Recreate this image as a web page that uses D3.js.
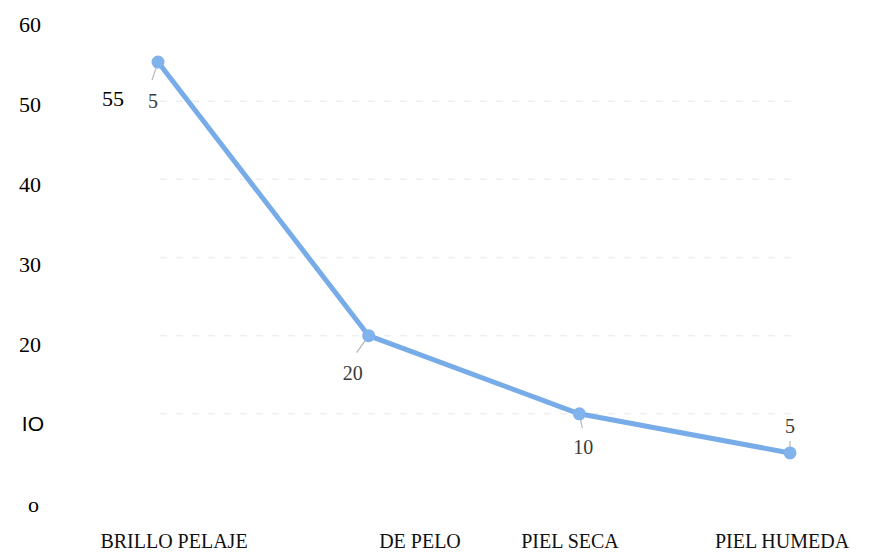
<!doctype html>
<html lang='es'>
  <head>
    <meta charset="utf-8">
    <script src="https://d3js.org/d3.v7.min.js"></script>
    <title>Brillo pelaje</title>
  <style>
  body {
    margin: 0;
    background-color: white;
  }
  svg {
    display: block;
  }
  .ytick {
    font-family: 'Liberation Serif', 'Times New Roman', serif;
    font-size: 22px;
    fill: #000;
  }
  .xtick {
    font-family: 'Liberation Serif', 'Times New Roman', serif;
    font-size: 20px;
    fill: #111;
  }
  .vlabel {
    font-family: 'Liberation Serif', 'Times New Roman', serif;
    font-size: 20px;
    fill: #3a3a3a;
  }
  </style>
  </head>
  <body>
    <div id='chart'></div>
    <script>
    // data
    const categories = ['BRILLO PELAJE', 'DE PELO', 'PIEL SECA', 'PIEL HUMEDA'];
    const values = [55, 20, 10, 5];
    const pointLabels = ['5', '20', '10', '5'];
    const yTickValues = [60, 50, 40, 30, 20, 10, 0];
    const yTickLabels = ['60', '50', '40', '30', '20', 'IO', 'o'];
    const gridValues = [10, 20, 30, 40, 50];

    const w = 873;
    const h = 552;

    // label offsets from their point (dx, dy)
    const labelOffsets = [[-5, 46], [-16, 44], [4, 40], [0, -20]];
    const leaderEnds = [[-6, 18], [-12, 17], [3, 14], [0, -12]];

    const svg = d3.select('#chart')
                  .append('svg')
                  .attr('width', w)
                  .attr('height', h);

    const xScale = d3.scalePoint()
                    .domain(categories)
                    .range([158, 790]);

    // category labels sit a bit apart from the points in the original
    const xLabel = d3.scaleOrdinal()
                    .domain(categories)
                    .range([174, 420, 570, 782]);

    const yScale = d3.scaleLinear()
                    .domain([0, 60])
                    .range([492, 23]);

    const yLabel = d3.scaleLinear()
                    .domain([0, 60])
                    .range([504, 24]);

    // faint dashed gridlines
    svg.selectAll('.grid')
        .data(gridValues)
        .enter()
        .append('line')
        .attr('class', 'grid')
        .attr('x1', 160)
        .attr('x2', 800)
        .attr('y1', d => yScale(d))
        .attr('y2', d => yScale(d))
        .attr('stroke', '#efefef')
        .attr('stroke-width', 1.5)
        .attr('stroke-dasharray', '7,9');

    // y tick labels
    svg.selectAll('.ytick')
        .data(yTickValues)
        .enter()
        .append('text')
        .attr('class', 'ytick')
        .attr('x', 41)
        .attr('y', d => yLabel(d))
        .attr('dy', '0.35em')
        .attr('text-anchor', 'end')
        .style('font-family', (d, i) => yTickLabels[i] === 'IO' ? "'Liberation Sans', Arial, sans-serif" : null)
        .style('font-size', (d, i) => yTickLabels[i] === 'IO' ? '21px' : null)
        .attr('dx', (d, i) => yTickLabels[i] === 'IO' ? 3 : (yTickLabels[i] === 'o' ? -2 : 0))
        .text((d, i) => yTickLabels[i]);

    // x category labels
    svg.selectAll('.xtick')
        .data(categories)
        .enter()
        .append('text')
        .attr('class', 'xtick')
        .attr('x', d => xLabel(d))
        .attr('y', 548)
        .attr('text-anchor', 'middle')
        .text(d => d);

    // leader lines
    svg.selectAll('.leader')
        .data(values)
        .enter()
        .append('line')
        .attr('class', 'leader')
        .attr('x1', (d, i) => xScale(categories[i]))
        .attr('y1', d => yScale(d))
        .attr('x2', (d, i) => xScale(categories[i]) + leaderEnds[i][0])
        .attr('y2', (d, i) => yScale(d) + leaderEnds[i][1])
        .attr('stroke', '#b5b5b5')
        .attr('stroke-width', 1.2);

    const line = d3.line()
                   .x((d, i) => xScale(categories[i]))
                   .y(d => yScale(d));

    svg.append('path')
        .datum(values)
        .attr('d', line)
        .attr('fill', 'none')
        .attr('stroke', '#78ace8')
        .attr('stroke-width', 5)
        .attr('stroke-linejoin', 'round');

    svg.selectAll('.dot')
        .data(values)
        .enter()
        .append('circle')
        .attr('class', 'dot')
        .attr('cx', (d, i) => xScale(categories[i]))
        .attr('cy', d => yScale(d))
        .attr('r', 6.5)
        .attr('fill', '#80b2ec');

    // value labels (scanned)
    svg.selectAll('.vlabel')
        .data(values)
        .enter()
        .append('text')
        .attr('class', 'vlabel')
        .attr('x', (d, i) => xScale(categories[i]) + labelOffsets[i][0])
        .attr('y', (d, i) => yScale(d) + labelOffsets[i][1])
        .attr('text-anchor', 'middle')
        .text((d, i) => pointLabels[i]);

    // the overlaid "55" next to the first point
    svg.append('text')
        .attr('class', 'ytick')
        .attr('x', xScale(categories[0]) - 45)
        .attr('y', yScale(values[0]) + 44)
        .attr('text-anchor', 'middle')
        .text(String(values[0]));
    </script>
  </body>
</html>
